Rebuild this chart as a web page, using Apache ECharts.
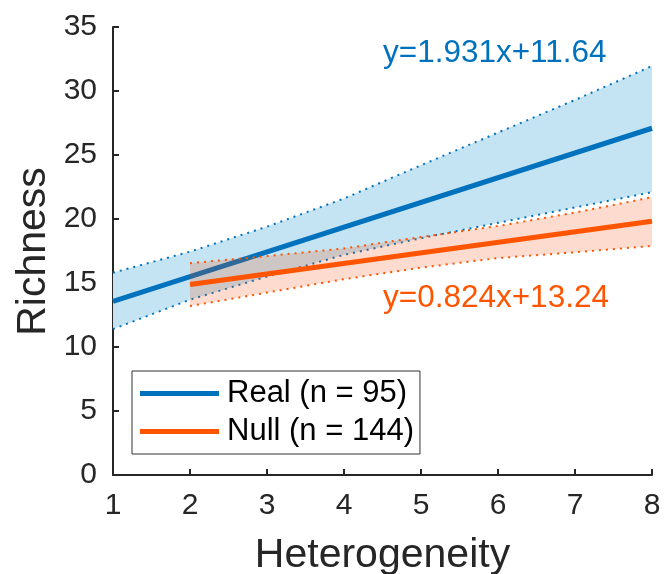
<!DOCTYPE html>
<html>
<head>
<meta charset="utf-8">
<script src="https://cdn.jsdelivr.net/npm/echarts@6/dist/echarts.min.js"></script>
<style>
html,body{margin:0;padding:0;background:#fff;overflow:hidden;}
#c{width:666px;height:574px;}
</style>
</head>
<body>
<div id="c"></div>
<script>
// ---- data ----
var bandX = [1, 2, 3, 4, 5, 6, 7, 8];
var realUpper = [15.8, 17.45, 19.4, 21.6, 24.2, 26.75, 29.3, 31.95];
var realLower = [11.4, 13.7, 15.5, 17.2, 18.5, 19.7, 20.9, 22.1];
var nullX = [2, 3, 4, 5, 6, 7, 8];
var nullUpper = [16.55, 17.1, 17.7, 18.6, 19.45, 20.5, 21.7];
var nullLower = [13.2, 14.25, 15.3, 16.2, 16.95, 17.4, 17.9];
var realFitX = [1, 8];
var realFitY = [13.57, 27.09];
var nullFitX = [2, 8];
var nullFitY = [14.89, 19.83];
var xTicks = [1, 2, 3, 4, 5, 6, 7, 8];
var yTicks = [0, 5, 10, 15, 20, 25, 30, 35];
var realName = 'Real (n = 95)';
var nullName = 'Null (n = 144)';
var realEq = 'y=1.931x+11.64';
var nullEq = 'y=0.824x+13.24';
var xTitle = 'Heterogeneity';
var yTitle = 'Richness';

// ---- helpers ----
function pairs(xs, ys) { return xs.map(function (x, i) { return [x, ys[i]]; }); }
function bandRenderer(xs, up, lo, fill) {
  return function (params, api) {
    var pts = [];
    for (var i = 0; i < xs.length; i++) pts.push(api.coord([xs[i], up[i]]));
    for (var j = xs.length - 1; j >= 0; j--) pts.push(api.coord([xs[j], lo[j]]));
    return { type: 'polygon', shape: { points: pts }, style: { fill: fill } };
  };
}

var BLUE = '#0072BD', ORANGE = '#FF5400', AXIS = '#262626';
var FONT = "'Liberation Sans', Arial, Helvetica, sans-serif";
var DOT = [2, 5];

var chart = echarts.init(document.getElementById('c'), null, { renderer: 'canvas' });
chart.setOption({
  animation: false,
  backgroundColor: '#fff',
  textStyle: { fontFamily: FONT },
  grid: { left: 113, right: 14, top: 27, bottom: 99, containLabel: false, outerBoundsMode: 'none' },
  xAxis: {
    type: 'value', min: xTicks[0], max: xTicks[xTicks.length - 1], interval: 1,
    axisLine: { show: true, lineStyle: { color: AXIS, width: 2 } },
    axisTick: { show: true, inside: true, length: 6, lineStyle: { color: AXIS, width: 2 } },
    axisLabel: { fontSize: 30, color: AXIS, margin: 16, fontFamily: FONT },
    splitLine: { show: false }
  },
  yAxis: {
    type: 'value', min: yTicks[0], max: yTicks[yTicks.length - 1], interval: 5,
    axisLine: { show: true, lineStyle: { color: AXIS, width: 2 } },
    axisTick: { show: true, inside: true, length: 6, lineStyle: { color: AXIS, width: 2 } },
    axisLabel: { fontSize: 30, color: AXIS, margin: 16, fontFamily: FONT },
    splitLine: { show: false }
  },
  legend: {
    data: [realName, nullName],
    orient: 'vertical', left: 132, top: 371,
    padding: [7, 6, 7, 8], itemGap: 7,
    itemWidth: 79, itemHeight: 5, icon: 'rect',
    backgroundColor: '#fff', borderColor: '#333', borderWidth: 1,
    textStyle: { fontSize: 31, color: '#000', fontFamily: FONT, padding: [0, 0, 0, 3] }
  },
  graphic: [
    { type: 'text', left: 383, top: 37, style: { text: realEq, fill: BLUE, font: "31.5px " + FONT } },
    { type: 'text', left: 383, top: 282, style: { text: nullEq, fill: ORANGE, font: "31.5px " + FONT } },
    { type: 'text', x: 382.5, y: 556, style: { text: xTitle, fill: AXIS, font: "41px " + FONT,
      textAlign: 'center', textVerticalAlign: 'middle' } },
    { type: 'text', x: 34, y: 251.5, rotation: Math.PI / 2, style: { text: yTitle, fill: AXIS, font: "41px " + FONT,
      textAlign: 'center', textVerticalAlign: 'middle' } }
  ],
  series: [
    { type: 'custom', data: [0], renderItem: bandRenderer(bandX, realUpper, realLower, '#C5E4F3'),
      silent: true, z: 1 },
    { type: 'line', data: pairs(bandX, realUpper), showSymbol: false, symbol: 'none',
      lineStyle: { color: BLUE, width: 2, type: DOT }, silent: true, z: 2 },
    { type: 'line', data: pairs(bandX, realLower), showSymbol: false, symbol: 'none',
      lineStyle: { color: BLUE, width: 2, type: DOT }, silent: true, z: 2 },
    { name: realName, type: 'line', data: pairs(realFitX, realFitY), showSymbol: false, symbol: 'none',
      color: BLUE, lineStyle: { color: BLUE, width: 5 }, z: 3 },
    { type: 'custom', data: [0], renderItem: bandRenderer(nullX, nullUpper, nullLower, 'rgba(245,70,0,0.19)'),
      silent: true, z: 4 },
    { type: 'line', data: pairs(nullX, nullUpper), showSymbol: false, symbol: 'none',
      lineStyle: { color: ORANGE, width: 2, type: DOT }, silent: true, z: 5 },
    { type: 'line', data: pairs(nullX, nullLower), showSymbol: false, symbol: 'none',
      lineStyle: { color: ORANGE, width: 2, type: DOT }, silent: true, z: 5 },
    { name: nullName, type: 'line', data: pairs(nullFitX, nullFitY), showSymbol: false, symbol: 'none',
      color: ORANGE, lineStyle: { color: ORANGE, width: 5 }, z: 6 }
  ]
});
</script>
</body>
</html>
